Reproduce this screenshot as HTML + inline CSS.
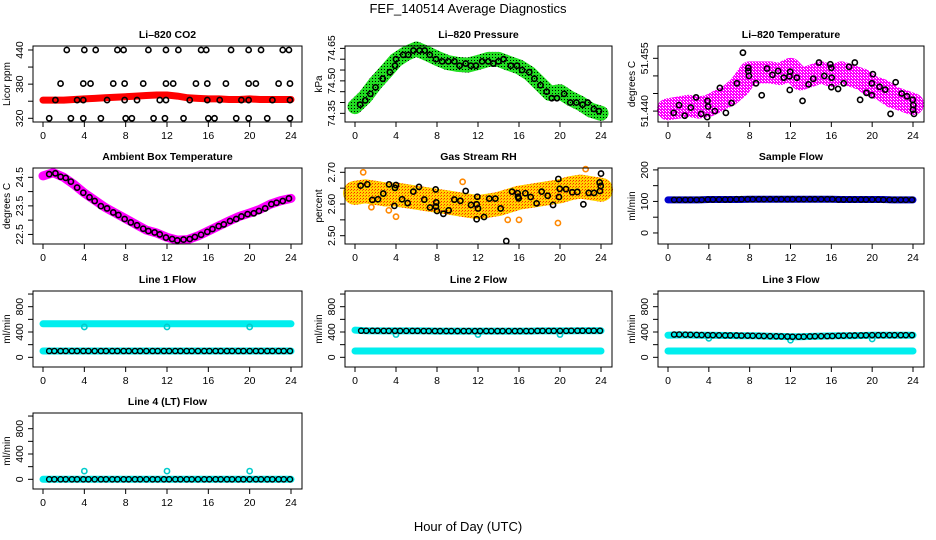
<!DOCTYPE html>
<html><head><meta charset="utf-8"><style>
body{margin:0;background:#fff;}
svg{display:block;font-family:"Liberation Sans",sans-serif;}
</style></head><body>
<svg id="chart" width="936" height="540" viewBox="0 0 936 540">
<defs>
<pattern id="pGreen" width="3" height="3" patternUnits="userSpaceOnUse"><rect width="3" height="3" fill="#22dd22"/><rect width="1" height="1" fill="#000"/></pattern>
<pattern id="pMag" width="3" height="3" patternUnits="userSpaceOnUse"><rect width="3" height="3" fill="#ff00ff"/><rect width="1" height="1" fill="#fff"/><rect x="2" y="2" width="1" height="1" fill="#fff"/></pattern>
<pattern id="pRH" width="3" height="3" patternUnits="userSpaceOnUse"><rect width="3" height="3" fill="#ffd400"/><rect width="1" height="1" fill="#ff2200"/><rect x="2" y="1" width="1" height="1" fill="#ff6600"/></pattern>
</defs>
<text x="468" y="13" font-size="13" text-anchor="middle">FEF_140514  Average Diagnostics</text>
<text x="468" y="531" font-size="13" text-anchor="middle">Hour of Day (UTC)</text>
</svg>
<script>
// ---- data ----
const xTicks=[0,4,8,12,16,20,24];
const hoursB=[0.6,1.1,1.7,2.2,2.8,3.3,3.9,4.4,5.0,5.6,6.1,6.7,7.2,7.8,8.3,8.9,9.4,10.0,10.6,11.1,11.7,12.2,12.8,13.3,13.9,14.4,15.0,15.6,16.1,16.7,17.2,17.8,18.3,18.9,19.4,20.0,20.6,21.1,21.7,22.2,22.8,23.3,23.9];
const hourly=[0,1,2,3,4,5,6,7,8,9,10,11,12,13,14,15,16,17,18,19,20,21,22,23,24];
// CO2
const co2Red=[352,352,352,353,354,355,356,357,358,359,360,361,361,359,356,355,354,354,353,353,354,353,353,353,353];
const co2BlackH=[2.3,4.0,5.1,7.2,7.8,10.2,11.9,13.1,15.3,15.8,18.2,19.9,21.1,23.2,23.8, 1.7,3.9,4.6,6.8,7.9,9.7,11.9,12.6,14.8,15.9,17.7,19.9,20.6,22.8,23.9, 1.2,3.3,3.9,6.2,7.9,9.1,11.3,11.9,14.2,15.9,17.1,19.2,19.9,22.2,23.9, 0.6,2.7,3.9,5.6,8.0,8.6,10.7,11.8,13.6,16.0,16.6,18.7,19.9,21.7,23.9];
const co2BlackV=[440,440,440,440,440,440,440,440,440,440,440,440,440,440,440, 381,381,381,381,381,381,381,381,381,381,381,381,381,381,381, 352,352,352,352,352,352,352,352,352,352,352,352,352,352,352, 320,320,320,320,320,320,320,320,320,320,320,320,320,320,320];
// Pressure
const presGreen=[74.381,74.427,74.489,74.542,74.596,74.627,74.647,74.627,74.604,74.585,74.576,74.573,74.585,74.599,74.599,74.581,74.565,74.535,74.489,74.442,74.45,74.419,74.396,74.365,74.35];
const presBlackH=[0.5,1,1.5,2,2.7,3.4,3.9,4,4.7,5.2,5.7,6.3,6.8,7.3,7.9,8.5,9.1,9.7,10.2,10.8,11.3,11.8,12.4,13,13.5,14,14.5,15.2,15.8,16.3,17,17.5,18.1,18.7,19.2,19.7,20.4,21,21.6,22.2,22.7,23.3,23.8];
const presBlackV=[74.39,74.41,74.44,74.47,74.51,74.54,74.57,74.60,74.62,74.62,74.64,74.64,74.64,74.62,74.60,74.59,74.59,74.59,74.57,74.58,74.57,74.57,74.59,74.59,74.58,74.59,74.60,74.57,74.57,74.55,74.54,74.51,74.48,74.45,74.42,74.42,74.44,74.40,74.40,74.39,74.40,74.37,74.36];
// Li-820 temperature
const tempMag=[51.4405,51.441,51.4415,51.441,51.4415,51.443,51.4445,51.447,51.451,51.451,51.451,51.4505,51.452,51.449,51.450,51.451,51.450,51.451,51.450,51.449,51.447,51.446,51.444,51.443,51.442];
const tempBlackH=[0.56,1.08,1.64,2.23,2.75,3.25,3.87,3.93,3.84,4.59,5.08,5.67,6.23,6.75,7.34,7.87,7.87,7.93,8.62,9.18,9.70,10.23,10.79,11.34,11.9,11.97,11.93,12.62,13.18,13.77,14.23,14.79,15.31,15.9,16.0,16.0,16.03,16.66,17.21,17.74,18.3,18.82,19.44,19.97,20.07,19.97,20.72,21.28,21.8,22.3,22.89,23.41,23.97,24.03,24.0,24.1];
const tempBlackV=[51.4395,51.4417,51.4387,51.4410,51.4439,51.4392,51.4429,51.4413,51.4383,51.4400,51.4466,51.4395,51.4423,51.4479,51.4566,51.4523,51.4514,51.4500,51.4479,51.4445,51.4521,51.4503,51.4514,51.4495,51.4499,51.4512,51.4460,51.4495,51.4429,51.4476,51.4492,51.4538,51.4500,51.4533,51.4523,51.4468,51.4495,51.4463,51.4479,51.4526,51.4538,51.4432,51.4452,51.4445,51.4505,51.4479,51.4469,51.4461,51.4392,51.4482,51.4450,51.4442,51.4432,51.4417,51.4404,51.4392];
// Ambient
const ambMag=[24.55,24.66,24.5,24.25,23.95,23.7,23.45,23.25,23.05,22.85,22.65,22.55,22.4,22.3,22.32,22.45,22.62,22.8,22.97,23.13,23.25,23.38,23.56,23.68,23.76];
const ambBlackH=[0.6,1.2,1.7,2.2,2.7,3.3,3.9,4.5,5.0,5.6,6.2,6.8,7.3,7.9,8.5,9.1,9.7,10.2,10.8,11.3,11.9,12.5,13.0,13.6,14.2,14.7,15.3,15.9,16.4,17.0,17.5,18.1,18.7,19.2,19.8,20.4,20.9,21.5,22.1,22.6,23.2,23.8];
const ambBlackV=[24.61,24.64,24.52,24.48,24.35,24.14,23.96,23.80,23.67,23.49,23.41,23.27,23.18,23.04,22.92,22.82,22.70,22.62,22.57,22.50,22.39,22.34,22.29,22.32,22.34,22.41,22.49,22.59,22.69,22.79,22.85,22.97,23.04,23.13,23.21,23.24,23.32,23.41,23.56,23.61,23.67,23.76];
// RH
const rhBand=[2.635,2.64,2.635,2.63,2.63,2.625,2.62,2.615,2.61,2.605,2.60,2.595,2.59,2.595,2.60,2.61,2.62,2.625,2.63,2.635,2.64,2.65,2.655,2.65,2.645];
const rhOutH=[0.8,1.6,3.3,4.0,10.5,14.9,16.0,19.8,22.5];
const rhOutV=[2.70,2.59,2.58,2.56,2.67,2.55,2.55,2.54,2.71];
const rhBlackH=[0.55,1.2,1.69,2.24,2.76,3.32,3.84,3.9,4.0,4.59,5.14,5.69,6.24,6.76,7.32,7.87,7.93,7.9,8.0,8.62,9.14,9.69,10.28,10.8,11.32,11.87,11.93,11.87,12.0,12.59,13.1,13.69,14.21,14.76,15.32,15.87,15.9,15.97,16.62,17.14,17.72,18.21,18.8,19.32,19.84,19.97,19.9,20.59,21.2,21.69,22.28,22.8,23.32,23.87,23.97,24.0,23.9];
const rhBlackV=[2.658,2.662,2.613,2.615,2.633,2.662,2.594,2.651,2.66,2.615,2.603,2.639,2.654,2.614,2.589,2.646,2.605,2.592,2.578,2.569,2.58,2.614,2.61,2.641,2.597,2.552,2.623,2.599,2.586,2.559,2.617,2.617,2.586,2.483,2.639,2.634,2.623,2.618,2.634,2.622,2.602,2.639,2.626,2.597,2.679,2.648,2.622,2.647,2.637,2.638,2.599,2.635,2.635,2.668,2.657,2.696,2.641];
// Flows
const sampleBlue=[105,105,105,105,106,106,106,106,107,107,107,107,107,107,107,107,107,106,106,106,106,106,105,105,105];
const sampleBlack=[105,105,105,105,105,105,106,106,106,106,106,107,107,107,107,107,107,107,107,107,107,107,107,107,107,107,107,107,107,106,106,106,106,106,106,106,106,105,105,105,105,105,105];
const dipH=[4,12,20];
const l1Upper=[530,530,530,530,530,530,530,530,530,530,530,530,530,530,530,530,530,530,530,530,530,530,530,530,530];
const l1Dip=[480,480,480];
const lowerCyan=[100,100,100,100,100,100,100,100,100,100,100,100,100,100,100,100,100,100,100,100,100,100,100,100,100];
const l1Black=[100,100,100,100,100,100,100,100,100,100,100,100,100,100,100,100,100,100,100,100,100,100,100,100,100,100,100,100,100,100,100,100,100,100,100,100,100,100,100,100,100,100,100];
const l2Upper=[430,420,418,418,418,418,418,418,415,415,415,415,415,415,415,415,415,415,418,418,418,418,420,420,420];
const l2Dip=[360,360,360];
const l2Black=[420,420,420,420,418,418,418,418,418,418,418,416,416,416,415,415,415,415,415,415,415,415,415,415,415,415,415,415,415,415,415,418,418,418,418,418,418,420,420,420,420,420,420];
const l3Upper=[350,355,352,350,348,346,344,342,340,338,334,330,325,325,330,335,338,340,342,345,348,350,350,350,350];
const l3Dip=[300,270,290];
const l3Black=[360,360,358,356,354,352,350,350,348,346,346,345,343,342,340,338,336,334,332,330,328,325,325,326,330,332,334,335,337,340,342,344,345,346,348,350,350,350,350,350,350,350,350];
const l4Base=[0,0,0,0,0,0,0,0,0,0,0,0,0,0,0,0,0,0,0,0,0,0,0,0,0];
const l4Spike=[130,130,130];
const l4Black=[0,0,0,0,0,0,0,0,0,0,0,0,0,0,0,0,0,0,0,0,0,0,0,0,0,0,0,0,0,0,0,0,0,0,0,0,0,0,0,0,0,0,0];

// ---- drawing ----
const NS='http://www.w3.org/2000/svg';
const svg=document.getElementById('chart');
function mk(tag,attrs,parent){const e=document.createElementNS(NS,tag);for(const k in attrs)e.setAttribute(k,attrs[k]);(parent||svg).appendChild(e);return e;}
const COLS=[[33,302],[345,612],[658,924]];
const ROWS=[46,168,291,413];
const H=76;

function panel(col,row,ylim,yticks,ylabels,title,ytitle,name){
  const l=COLS[col][0],r=COLS[col][1],t=ROWS[row],b=t+H;
  const g=mk('g',{});
  
  
  const xs=h=>l+10+h*(r-l-21)/24;
  const ys=v=>b-(v-ylim[0])/(ylim[1]-ylim[0])*H;
  const tt=mk('text',{x:(l+r)/2,y:t-8,'font-size':10.5,'font-weight':'bold','text-anchor':'middle'},g);
  tt.textContent=title;
  
  
  const plot=mk('g',{},g);
  
  
  const bx=mk('rect',{x:l,y:t,width:r-l,height:H,fill:'none',stroke:'#000','stroke-width':1},g);
  
  
  xTicks.forEach(h=>{
    mk('line',{x1:xs(h),x2:xs(h),y1:b,y2:b+5,stroke:'#000'},g);
    const tx=mk('text',{x:xs(h),y:b+17,'font-size':10.5,'text-anchor':'middle'},g);
    tx.textContent=h;
    
    
  });
  yticks.forEach(v=>{mk('line',{x1:l-5,x2:l,y1:ys(v),y2:ys(v),stroke:'#000'},g);});
  ylabels.forEach(v=>{
    const ty=mk('text',{x:0,y:0,'font-size':10.5,'text-anchor':'middle',transform:`translate(${l-10},${ys(v)}) rotate(-90)`},g);
    ty.textContent=v;
    
    
  });
  const yt=mk('text',{x:0,y:0,'font-size':10,'text-anchor':'middle',transform:`translate(${l-23},${(t+b)/2}) rotate(-90)`},g);
  yt.textContent=ytitle;
  
  
  return {xs,ys,plot};
}
function band(p,hs,vs,stroke,w,name){
  const d=hs.map((h,i)=>(i?'L':'M')+p.xs(h).toFixed(1)+','+p.ys(vs[i]).toFixed(1)).join('');
  const e=mk('path',{d,fill:'none',stroke,'stroke-width':w,'stroke-linecap':'round','stroke-linejoin':'round'},p.plot);
  
  
}
function pts(p,hs,vs,color,rad,sw,name){
  hs.forEach((h,i)=>{
    const c=mk('circle',{cx:p.xs(h),cy:p.ys(vs[i]),r:rad,fill:'none',stroke:color,'stroke-width':sw},p.plot);
    
    
  });
}

let p;
p=panel(0,0,[313.5,447],[320,350,380,410,440],[320,380,440],'Li\u2013820 CO2','Licor ppm','co2');
band(p,hourly,co2Red,'#ff0000',7,'co2-red-series');
pts(p,co2BlackH,co2BlackV,'#000',2.6,1.6,'co2-point');

p=panel(1,0,[74.310,74.661],[74.35,74.40,74.45,74.50,74.55,74.60,74.65],[74.35,'74.50','74.65'],'Li\u2013820 Pressure','kPa','pressure');
band(p,hourly,presGreen,'url(#pGreen)',15,'pressure-green-series');
pts(p,presBlackH,presBlackV,'#000',2.6,1.6,'pressure-point');

p=panel(2,0,[51.4369,51.4585],[51.440,51.445,51.450,51.455],['51.440','51.455'],'Li\u2013820 Temperature','degrees C','li820-temp');
band(p,hourly,tempMag,'url(#pMag)',22,'temp-magenta-series');
pts(p,tempBlackH,tempBlackV,'#000',2.6,1.6,'temp-point');

p=panel(0,1,[22.165,24.826],[22.5,23,23.5,24,24.5],['22.5','23.5','24.5'],'Ambient Box Temperature','degrees C','ambient');
band(p,hourly,ambMag,'#ff00ff',9,'ambient-magenta-series');
pts(p,ambBlackH,ambBlackV,'#000',2.6,1.6,'ambient-point');

p=panel(1,1,[2.4738,2.7136],[2.50,2.55,2.60,2.65,2.70],['2.50','2.60','2.70'],'Gas Stream RH','percent','rh');
band(p,hourly,rhBand,'url(#pRH)',24,'rh-orange-series');
pts(p,rhOutH,rhOutV,'#ff8800',2.6,1.6,'rh-orange-point');
pts(p,rhBlackH,rhBlackV,'#000',2.6,1.6,'rh-point');

p=panel(2,1,[-35,206],[0,50,100,150,200],[0,100,200],'Sample Flow','ml/min','sample-flow');
band(p,hourly,sampleBlue,'#0000cc',7,'sample-blue-series');
pts(p,hoursB,sampleBlack,'#000',2.6,1.4,'sample-point');

p=panel(0,2,[-153,1048],[0,200,400,600,800,1000],[0,400,800],'Line 1 Flow','ml/min','line1');
band(p,hourly,l1Upper,'#00eeee',7,'line1-cyan-upper');
band(p,hourly,lowerCyan,'#00eeee',7,'line1-cyan-lower');
pts(p,dipH,l1Dip,'#00cccc',2.6,1.6,'line1-dip-point');
pts(p,hoursB,l1Black,'#000',2.6,1.4,'line1-point');

p=panel(1,2,[-153,1048],[0,200,400,600,800,1000],[0,400,800],'Line 2 Flow','ml/min','line2');
band(p,hourly,l2Upper,'#00eeee',7,'line2-cyan-upper');
band(p,hourly,lowerCyan,'#00eeee',7,'line2-cyan-lower');
pts(p,dipH,l2Dip,'#00cccc',2.6,1.6,'line2-dip-point');
pts(p,hoursB,l2Black,'#000',2.6,1.4,'line2-point');

p=panel(2,2,[-153,1048],[0,200,400,600,800,1000],[0,400,800],'Line 3 Flow','ml/min','line3');
band(p,hourly,l3Upper,'#00eeee',7,'line3-cyan-upper');
band(p,hourly,lowerCyan,'#00eeee',7,'line3-cyan-lower');
pts(p,dipH,l3Dip,'#00cccc',2.6,1.6,'line3-dip-point');
pts(p,hoursB,l3Black,'#000',2.6,1.4,'line3-point');

p=panel(0,3,[-153,1048],[0,200,400,600,800,1000],[0,400,800],'Line 4 (LT) Flow','ml/min','line4');
band(p,hourly,l4Base,'#00eeee',7,'line4-cyan-series');
pts(p,dipH,l4Spike,'#00cccc',2.6,1.6,'line4-spike-point');
pts(p,hoursB,l4Black,'#000',2.6,1.4,'line4-point');
</script>
</body></html>
